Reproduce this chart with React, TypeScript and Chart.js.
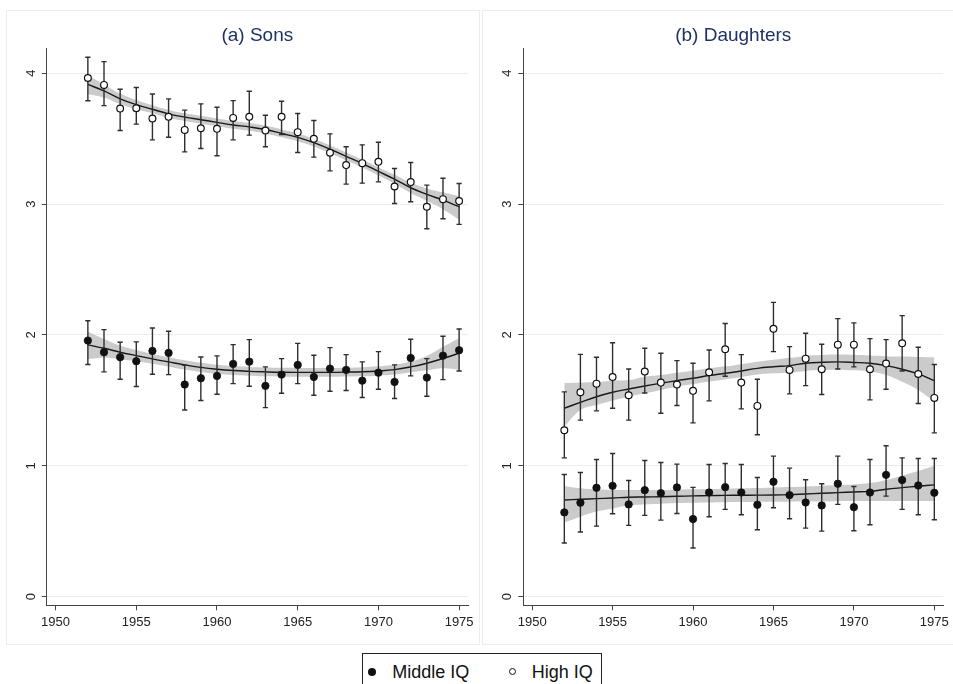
import { useEffect, useRef } from "react";
import { Chart, registerables } from "chart.js";

Chart.register(...registerables);

const FONT = "'Liberation Sans', Arial, Helvetica, sans-serif";

// Birth cohorts on the x axis
const years = [
  1952, 1953, 1954, 1955, 1956, 1957, 1958, 1959, 1960, 1961, 1962, 1963,
  1964, 1965, 1966, 1967, 1968, 1969, 1970, 1971, 1972, 1973, 1974, 1975,
];
const xTicks = [1950, 1955, 1960, 1965, 1970, 1975];
const yTicks = [0, 1, 2, 3, 4];

// (a) Sons, High IQ: cohort means with 95% CI, and smoothed fit with band
const sonsHighMean = [3.964, 3.911, 3.73, 3.733, 3.654, 3.667, 3.567, 3.58, 3.575, 3.659, 3.667, 3.562, 3.667, 3.55, 3.499, 3.392, 3.298, 3.313, 3.323, 3.135, 3.168, 2.98, 3.038, 3.023];
const sonsHighLo = [3.79, 3.753, 3.562, 3.611, 3.491, 3.511, 3.399, 3.425, 3.369, 3.491, 3.527, 3.438, 3.532, 3.394, 3.359, 3.254, 3.153, 3.16, 3.17, 3.005, 3.018, 2.812, 2.888, 2.845];
const sonsHighHi = [4.122, 4.089, 3.878, 3.891, 3.842, 3.804, 3.718, 3.766, 3.74, 3.791, 3.863, 3.679, 3.786, 3.692, 3.639, 3.537, 3.438, 3.453, 3.473, 3.272, 3.318, 3.145, 3.198, 3.158];
const sonsHighFit = [3.915, 3.865, 3.805, 3.76, 3.725, 3.69, 3.665, 3.645, 3.625, 3.605, 3.59, 3.57, 3.54, 3.51, 3.47, 3.42, 3.365, 3.31, 3.25, 3.19, 3.125, 3.075, 3.03, 2.98];
const sonsHighBandHi = [3.985, 3.915, 3.845, 3.795, 3.755, 3.72, 3.695, 3.675, 3.655, 3.635, 3.62, 3.6, 3.57, 3.54, 3.5, 3.45, 3.395, 3.34, 3.28, 3.225, 3.165, 3.12, 3.09, 3.06];
const sonsHighBandLo = [3.84, 3.815, 3.765, 3.725, 3.695, 3.66, 3.635, 3.615, 3.595, 3.575, 3.56, 3.54, 3.51, 3.48, 3.44, 3.39, 3.335, 3.28, 3.22, 3.155, 3.085, 3.025, 2.96, 2.88];

// (a) Sons, Middle IQ
const sonsMidMean = [1.957, 1.868, 1.83, 1.799, 1.878, 1.863, 1.621, 1.669, 1.687, 1.779, 1.796, 1.611, 1.697, 1.771, 1.679, 1.743, 1.733, 1.651, 1.712, 1.641, 1.824, 1.674, 1.842, 1.883];
const sonsMidLo = [1.774, 1.718, 1.662, 1.606, 1.7, 1.697, 1.427, 1.499, 1.547, 1.628, 1.608, 1.445, 1.555, 1.628, 1.539, 1.57, 1.575, 1.522, 1.585, 1.514, 1.687, 1.532, 1.659, 1.725];
const sonsMidHi = [2.109, 2.041, 1.944, 1.947, 2.053, 2.028, 1.768, 1.832, 1.84, 1.926, 1.964, 1.756, 1.819, 1.936, 1.845, 1.903, 1.85, 1.794, 1.873, 1.771, 1.967, 1.819, 1.99, 2.046];
const sonsMidFit = [1.924, 1.898, 1.868, 1.842, 1.817, 1.794, 1.771, 1.752, 1.738, 1.728, 1.722, 1.718, 1.715, 1.714, 1.714, 1.714, 1.716, 1.719, 1.725, 1.735, 1.756, 1.784, 1.82, 1.86];
const sonsMidBandHi = [2.025, 1.97, 1.92, 1.885, 1.855, 1.83, 1.806, 1.787, 1.773, 1.762, 1.756, 1.752, 1.749, 1.748, 1.748, 1.748, 1.75, 1.754, 1.761, 1.773, 1.797, 1.84, 1.91, 1.975];
const sonsMidBandLo = [1.815, 1.825, 1.815, 1.8, 1.78, 1.758, 1.736, 1.717, 1.703, 1.694, 1.688, 1.684, 1.681, 1.68, 1.68, 1.68, 1.682, 1.684, 1.689, 1.697, 1.715, 1.73, 1.746, 1.735];

// (b) Daughters, High IQ
const dauHighMean = [1.272, 1.562, 1.628, 1.679, 1.539, 1.72, 1.636, 1.621, 1.573, 1.715, 1.891, 1.636, 1.458, 2.048, 1.733, 1.819, 1.738, 1.926, 1.926, 1.738, 1.781, 1.936, 1.702, 1.519];
const dauHighLo = [1.061, 1.349, 1.42, 1.44, 1.349, 1.557, 1.402, 1.461, 1.328, 1.496, 1.684, 1.435, 1.237, 1.873, 1.55, 1.613, 1.545, 1.74, 1.756, 1.504, 1.585, 1.725, 1.476, 1.252];
const dauHighHi = [1.565, 1.852, 1.83, 1.941, 1.74, 1.898, 1.86, 1.804, 1.784, 1.885, 2.087, 1.85, 1.662, 2.249, 1.911, 2.013, 1.929, 2.125, 2.092, 1.972, 1.964, 2.148, 1.906, 1.774];
const dauHighFit = [1.44, 1.485, 1.528, 1.562, 1.587, 1.61, 1.631, 1.651, 1.669, 1.69, 1.707, 1.725, 1.745, 1.757, 1.766, 1.784, 1.791, 1.794, 1.79, 1.784, 1.766, 1.738, 1.702, 1.651];
const dauHighBandHi = [1.632, 1.636, 1.64, 1.65, 1.655, 1.681, 1.694, 1.712, 1.727, 1.745, 1.76, 1.777, 1.795, 1.81, 1.825, 1.84, 1.847, 1.85, 1.848, 1.843, 1.838, 1.835, 1.832, 1.83];
const dauHighBandLo = [1.3, 1.427, 1.465, 1.498, 1.528, 1.554, 1.58, 1.605, 1.625, 1.645, 1.66, 1.678, 1.697, 1.707, 1.712, 1.725, 1.732, 1.735, 1.73, 1.72, 1.694, 1.643, 1.58, 1.49];

// (b) Daughters, Middle IQ
const dauMidMean = [0.644, 0.718, 0.832, 0.847, 0.705, 0.814, 0.791, 0.835, 0.593, 0.796, 0.837, 0.796, 0.702, 0.878, 0.776, 0.72, 0.697, 0.863, 0.684, 0.796, 0.931, 0.891, 0.85, 0.794];
const dauMidLo = [0.41, 0.494, 0.539, 0.634, 0.545, 0.621, 0.585, 0.636, 0.372, 0.611, 0.667, 0.626, 0.511, 0.679, 0.595, 0.524, 0.501, 0.705, 0.504, 0.55, 0.768, 0.667, 0.626, 0.588];
const dauMidHi = [0.934, 0.949, 1.048, 1.094, 0.888, 1.041, 1.025, 1.013, 0.835, 1.01, 1.018, 1.01, 0.911, 1.074, 0.982, 0.893, 0.863, 1.074, 0.842, 1.048, 1.153, 1.061, 1.056, 1.056];
const dauMidFit = [0.739, 0.744, 0.749, 0.754, 0.76, 0.762, 0.764, 0.767, 0.77, 0.772, 0.774, 0.775, 0.776, 0.777, 0.78, 0.785, 0.79, 0.795, 0.8, 0.805, 0.821, 0.833, 0.844, 0.854];
const dauMidBandHi = [0.846, 0.828, 0.82, 0.815, 0.815, 0.815, 0.815, 0.817, 0.82, 0.822, 0.825, 0.828, 0.831, 0.835, 0.838, 0.842, 0.848, 0.853, 0.858, 0.868, 0.892, 0.925, 0.96, 1.0];
const dauMidBandLo = [0.566, 0.611, 0.65, 0.674, 0.696, 0.704, 0.71, 0.715, 0.718, 0.72, 0.722, 0.723, 0.724, 0.725, 0.726, 0.727, 0.728, 0.73, 0.731, 0.731, 0.731, 0.731, 0.731, 0.731];

type Group = {
  mean: number[];
  lo: number[];
  hi: number[];
  fit: number[];
  bandHi: number[];
  bandLo: number[];
  hollow: boolean;
};

const pts = (vals: number[]) => years.map((x, i) => ({ x, y: vals[i] }));

// vertical whiskers: lo -> hi for each cohort, broken by gaps; caps come from the 'line' point style
const whiskerPts = (lo: number[], hi: number[]) =>
  years.flatMap((x, i) => [
    { x, y: lo[i] },
    { x, y: hi[i] },
    { x, y: null as any },
  ]);

function groupDatasets(g: Group, baseIndex: number) {
  return [
    {
      data: pts(g.bandLo),
      borderWidth: 0,
      pointRadius: 0,
      tension: 0.4,
      fill: false,
      order: 4,
    },
    {
      data: pts(g.bandHi),
      borderWidth: 0,
      pointRadius: 0,
      tension: 0.4,
      fill: { target: baseIndex, above: "#cbcbcb", below: "#cbcbcb" },
      backgroundColor: "#cbcbcb",
      order: 3,
    },
    {
      data: pts(g.fit),
      borderColor: "#1a1a1a",
      borderWidth: 1.4,
      pointRadius: 0,
      tension: 0.4,
      fill: false,
      order: 2,
    },
    {
      data: whiskerPts(g.lo, g.hi),
      borderColor: "#2e2e2e",
      borderWidth: 1.4,
      spanGaps: false,
      pointStyle: "line",
      pointRadius: 2.6,
      pointBorderWidth: 1.4,
      pointBorderColor: "#2e2e2e",
      tension: 0,
      fill: false,
      order: 1,
    },
    {
      data: pts(g.mean),
      showLine: false,
      pointStyle: "circle",
      pointRadius: g.hollow ? 3.4 : 3.7,
      pointBorderWidth: g.hollow ? 1.2 : 0.8,
      pointBorderColor: "#111111",
      pointBackgroundColor: g.hollow ? "#ffffff" : "#111111",
      fill: false,
      order: 0,
    },
  ];
}

const rotatedYLabels = {
  id: "rotatedYLabels",
  afterDraw(chart: any) {
    const s = chart.scales.y;
    const ctx = chart.ctx;
    ctx.save();
    ctx.font = `13px ${FONT}`;
    ctx.fillStyle = "#222222";
    ctx.textAlign = "center";
    ctx.textBaseline = "middle";
    for (const v of yTicks) {
      const py = s.getPixelForValue(v);
      ctx.save();
      ctx.translate(s.right - 15.5, py);
      ctx.rotate(-Math.PI / 2);
      ctx.fillText(String(v), 0, 0);
      ctx.restore();
    }
    ctx.restore();
  },
};

function makeConfig(title: string, mid: Group, high: Group, yWidth: number, padRight: number): any {
  const datasets = [...groupDatasets(mid, 0), ...groupDatasets(high, 5)];
  return {
    type: "line",
    data: { datasets },
    plugins: [rotatedYLabels],
    options: {
      animation: false,
      responsive: false,
      devicePixelRatio: 1,
      events: [],
      layout: { padding: { left: 0, right: padRight, top: 0, bottom: 0 } },
      plugins: {
        legend: { display: false },
        tooltip: { enabled: false },
        title: {
          display: true,
          text: title,
          fullSize: false,
          color: "#1f3263",
          font: { family: FONT, size: 19, weight: "normal" },
          padding: { top: 23.9, bottom: 1.3 },
        },
      },
      scales: {
        x: {
          type: "linear",
          min: 1949.45,
          max: 1975.55,
          afterBuildTicks: (s: any) => {
            s.ticks = xTicks.map((value) => ({ value }));
          },
          afterFit: (s: any) => {
            s.height = 78.7;
          },
          grid: { drawOnChartArea: false, drawTicks: true, tickLength: 5, tickColor: "#444444", lineWidth: 1 },
          border: { display: true, color: "#444444", width: 1 },
          ticks: {
            padding: 4,
            color: "#222222",
            font: { family: FONT, size: 13 },
            maxRotation: 0,
            autoSkip: false,
            callback: (v: any) => String(v),
          },
        },
        y: {
          type: "linear",
          min: -0.066,
          max: 4.193,
          afterBuildTicks: (s: any) => {
            s.ticks = yTicks.map((value) => ({ value }));
          },
          afterFit: (s: any) => {
            s.width = yWidth;
          },
          grid: { color: "#ececec", tickColor: "#444444", tickLength: 5, lineWidth: 1 },
          border: { display: true, color: "#444444", width: 1 },
          ticks: { display: false },
        },
      },
    },
  };
}

function Panel(props: {
  left: number;
  width: number;
  title: string;
  mid: Group;
  high: Group;
  yWidth: number;
  padRight: number;
}) {
  const ref = useRef<HTMLCanvasElement | null>(null);
  useEffect(() => {
    if (!ref.current) return;
    const chart = new Chart(
      ref.current,
      makeConfig(props.title, props.mid, props.high, props.yWidth, props.padRight)
    );
    return () => chart.destroy();
  }, []);
  return (
    <canvas
      ref={ref}
      width={props.width}
      height={684}
      style={{ position: "absolute", left: props.left, top: 0, width: props.width, height: 684 }}
    />
  );
}

const legendText: React.CSSProperties = {
  position: "absolute",
  top: 7.6,
  height: 20,
  lineHeight: "20px",
  fontSize: 18,
  fontFamily: FONT,
  color: "#111111",
  whiteSpace: "nowrap",
};

export default function App() {
  const sonsMid: Group = { mean: sonsMidMean, lo: sonsMidLo, hi: sonsMidHi, fit: sonsMidFit, bandHi: sonsMidBandHi, bandLo: sonsMidBandLo, hollow: false };
  const sonsHigh: Group = { mean: sonsHighMean, lo: sonsHighLo, hi: sonsHighHi, fit: sonsHighFit, bandHi: sonsHighBandHi, bandLo: sonsHighBandLo, hollow: true };
  const dauMid: Group = { mean: dauMidMean, lo: dauMidLo, hi: dauMidHi, fit: dauMidFit, bandHi: dauMidBandHi, bandLo: dauMidBandLo, hollow: false };
  const dauHigh: Group = { mean: dauHighMean, lo: dauHighLo, hi: dauHighHi, fit: dauHighFit, bandHi: dauHighBandHi, bandLo: dauHighBandLo, hollow: true };

  return (
    <div
      style={{
        position: "absolute",
        left: 0,
        top: 0,
        width: 953,
        height: 684,
        overflow: "hidden",
        background: "#ffffff",
      }}
    >
      <div style={{ position: "absolute", left: 6, top: 10, width: 474, height: 635, border: "1px solid #ededed", boxSizing: "border-box" }} />
      <div style={{ position: "absolute", left: 482, top: 10, width: 480, height: 635, border: "1px solid #ededed", boxSizing: "border-box" }} />
      <Panel left={0} width={480} title="(a) Sons" mid={sonsMid} high={sonsHigh} yWidth={46.7} padRight={12} />
      <Panel left={480} width={473} title="(b) Daughters" mid={dauMid} high={dauHigh} yWidth={43.3} padRight={8} />
      <div
        style={{
          position: "absolute",
          left: 361.7,
          top: 653.3,
          width: 240.6,
          height: 40,
          border: "1px solid #222222",
          boxSizing: "border-box",
          background: "#ffffff",
        }}
      >
        <div style={{ position: "absolute", left: 5.6, top: 13.4, width: 8, height: 8, borderRadius: "50%", background: "#111111" }} />
        <div style={{ ...legendText, left: 29.6 }}>Middle IQ</div>
        <div style={{ position: "absolute", left: 146.1, top: 13.9, width: 7, height: 7, borderRadius: "50%", border: "1.3px solid #111111", boxSizing: "border-box" }} />
        <div style={{ ...legendText, left: 169 }}>High IQ</div>
      </div>
    </div>
  );
}
